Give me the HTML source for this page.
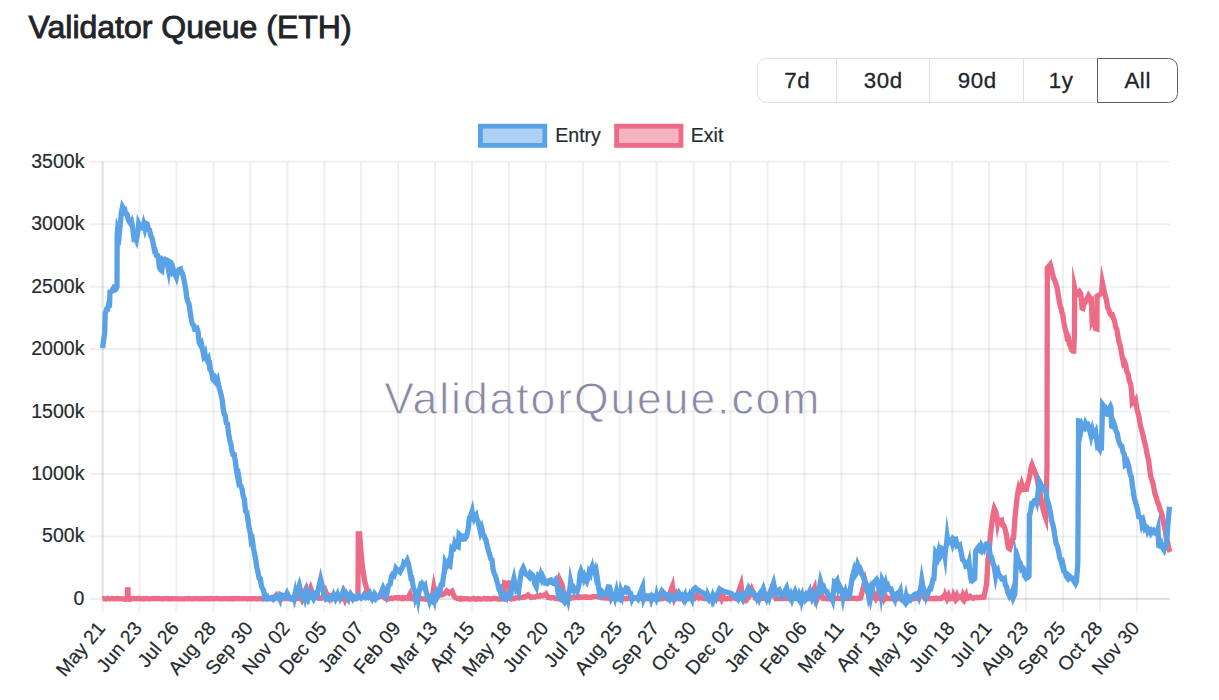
<!DOCTYPE html>
<html><head><meta charset="utf-8"><title>Validator Queue (ETH)</title>
<style>
html,body{margin:0;padding:0;background:#fff;}
body{width:1219px;height:700px;position:relative;overflow:hidden;font-family:"Liberation Sans",sans-serif;color:#212529;}
h1{position:absolute;left:28.5px;top:8.7px;margin:0;font-size:32px;line-height:36px;font-weight:400;color:#212529;white-space:nowrap;letter-spacing:0px;-webkit-text-stroke:0.9px #212529;}
.bg{position:absolute;left:757.3px;top:57.7px;height:45.2px;width:422px;display:flex;box-sizing:border-box;}
.bg div{box-sizing:border-box;height:45.2px;border:1.5px solid #dde1e6;border-left-width:0;font-size:22.3px;line-height:44.9px;letter-spacing:0.6px;text-indent:0.6px;text-align:center;color:#212529;background:#fff;-webkit-text-stroke:0.3px #212529;overflow:hidden;}
.bg div:first-child{border-left-width:1.5px;border-radius:9.5px 0 0 9.5px;}
.bg div.act{border:1.6px solid #5c6166;border-radius:0 9.5px 9.5px 0;margin-left:-1.5px;}
</style></head><body>
<h1>Validator Queue (ETH)</h1>
<div class="bg"><div style="width:79.3px">7d</div><div style="width:93.9px">30d</div><div style="width:93.8px">90d</div><div style="width:74.0px">1y</div><div class="act" style="width:81.2px">All</div></div>
<svg width="1219" height="700" viewBox="0 0 1219 700" style="position:absolute;left:0;top:0">
<g stroke="rgba(0,0,0,0.06)" stroke-width="2.1" fill="none"><line x1="102.60" y1="161.80" x2="102.60" y2="611.70"/><line x1="139.54" y1="161.80" x2="139.54" y2="611.70"/><line x1="176.48" y1="161.80" x2="176.48" y2="611.70"/><line x1="213.42" y1="161.80" x2="213.42" y2="611.70"/><line x1="250.36" y1="161.80" x2="250.36" y2="611.70"/><line x1="287.30" y1="161.80" x2="287.30" y2="611.70"/><line x1="324.24" y1="161.80" x2="324.24" y2="611.70"/><line x1="361.18" y1="161.80" x2="361.18" y2="611.70"/><line x1="398.12" y1="161.80" x2="398.12" y2="611.70"/><line x1="435.06" y1="161.80" x2="435.06" y2="611.70"/><line x1="472.00" y1="161.80" x2="472.00" y2="611.70"/><line x1="508.94" y1="161.80" x2="508.94" y2="611.70"/><line x1="545.88" y1="161.80" x2="545.88" y2="611.70"/><line x1="582.82" y1="161.80" x2="582.82" y2="611.70"/><line x1="619.76" y1="161.80" x2="619.76" y2="611.70"/><line x1="656.70" y1="161.80" x2="656.70" y2="611.70"/><line x1="693.64" y1="161.80" x2="693.64" y2="611.70"/><line x1="730.58" y1="161.80" x2="730.58" y2="611.70"/><line x1="767.52" y1="161.80" x2="767.52" y2="611.70"/><line x1="804.46" y1="161.80" x2="804.46" y2="611.70"/><line x1="841.40" y1="161.80" x2="841.40" y2="611.70"/><line x1="878.34" y1="161.80" x2="878.34" y2="611.70"/><line x1="915.28" y1="161.80" x2="915.28" y2="611.70"/><line x1="952.22" y1="161.80" x2="952.22" y2="611.70"/><line x1="989.16" y1="161.80" x2="989.16" y2="611.70"/><line x1="1026.10" y1="161.80" x2="1026.10" y2="611.70"/><line x1="1063.04" y1="161.80" x2="1063.04" y2="611.70"/><line x1="1099.98" y1="161.80" x2="1099.98" y2="611.70"/><line x1="1136.92" y1="161.80" x2="1136.92" y2="611.70"/><line x1="89.80" y1="161.80" x2="1169.90" y2="161.80"/><line x1="89.80" y1="224.24" x2="1169.90" y2="224.24"/><line x1="89.80" y1="286.69" x2="1169.90" y2="286.69"/><line x1="89.80" y1="349.13" x2="1169.90" y2="349.13"/><line x1="89.80" y1="411.57" x2="1169.90" y2="411.57"/><line x1="89.80" y1="474.01" x2="1169.90" y2="474.01"/><line x1="89.80" y1="536.46" x2="1169.90" y2="536.46"/><line x1="89.80" y1="598.90" x2="1169.90" y2="598.90"/><line x1="102.60" y1="161.80" x2="102.60" y2="598.90"/><line x1="102.60" y1="598.90" x2="1169.90" y2="598.90"/></g>
<text id="wm" x="384.3" y="414" font-family="Liberation Sans, sans-serif" font-size="44.5" fill="#8a8aa6" stroke="#ffffff" stroke-width="0.8" textLength="435" lengthAdjust="spacing">ValidatorQueue.com</text>
<polyline points="102.6,598.7 103.2,598.5 104.3,598.9 105.4,598.8 106.6,598.8 107.7,598.5 108.8,598.7 109.9,598.8 111.1,598.7 112.2,598.5 113.3,598.7 114.5,598.9 115.6,598.6 116.7,598.5 117.9,598.6 119.0,598.8 119.5,598.7 120.6,598.7 121.6,598.8 122.5,598.8 123.5,598.9 124.5,599.1 125.5,599.4 126.4,599.1 127.3,598.7 127.5,590.0 128.0,590.0 128.2,598.7 129.5,599.4 130.3,599.2 131.0,598.7 132.5,598.5 133.7,598.5 134.8,598.6 135.9,598.6 137.1,598.7 138.2,598.5 139.3,598.6 140.5,598.5 141.6,598.9 142.7,598.8 143.8,598.5 145.0,598.9 146.1,598.5 147.2,598.6 148.4,598.9 149.5,598.8 150.6,598.8 151.8,598.7 152.9,598.5 154.0,598.8 155.1,598.5 156.3,598.6 157.4,598.6 158.5,598.5 159.7,598.6 160.8,598.8 161.9,598.8 163.1,598.7 164.2,598.8 165.3,598.7 166.4,598.5 167.6,598.8 168.7,598.7 169.8,598.8 171.0,598.9 172.1,598.7 173.2,598.7 174.4,598.8 175.5,598.7 176.6,598.6 177.7,598.8 178.9,598.9 180.0,598.8 181.1,598.8 182.3,598.9 183.4,598.8 184.5,598.8 185.7,598.7 186.8,598.6 187.9,598.8 189.0,598.5 190.2,598.7 191.3,598.8 192.4,598.8 193.6,598.8 194.7,598.6 195.8,598.7 197.0,598.7 198.1,598.8 199.2,598.7 200.3,598.8 201.5,598.9 202.6,598.5 203.7,598.8 204.9,598.8 206.0,598.6 207.1,598.7 208.3,598.9 209.4,598.5 210.5,598.7 211.6,598.5 212.8,598.8 213.9,598.9 215.0,598.7 216.2,598.5 217.3,598.7 218.4,598.7 219.6,598.8 220.7,598.7 221.8,598.8 222.9,598.9 224.1,598.7 225.2,598.7 226.3,598.9 227.5,598.6 228.6,598.8 229.7,598.6 230.9,598.8 232.0,598.5 233.1,598.9 234.2,598.6 235.4,598.5 236.5,598.6 237.6,598.6 238.8,598.5 239.9,598.7 241.0,598.7 242.2,598.8 243.3,598.6 244.4,598.6 245.5,598.6 246.7,598.8 247.8,598.9 248.9,598.7 250.1,598.6 251.2,598.9 252.3,598.6 253.5,598.6 254.6,598.5 255.7,598.8 256.8,598.9 258.0,598.8 259.1,598.7 260.2,598.7 261.4,598.6 262.5,598.9 263.6,598.6 264.8,598.8 265.9,598.9 267.0,598.9 268.1,598.7 269.3,598.6 270.4,598.7 271.0,598.7 272.0,598.8 273.1,598.3 274.3,598.6 274.8,596.9 276.3,595.1 277.8,597.2 278.8,598.7 279.9,598.6 281.0,598.7 282.2,598.8 283.3,598.3 284.4,598.7 285.6,598.7 286.7,598.6 287.8,598.5 288.9,598.6 290.1,598.4 291.2,598.4 292.3,598.6 293.5,598.2 294.6,598.3 295.7,598.8 296.9,598.3 298.0,598.2 299.1,598.3 300.3,595.6 301.8,599.0 303.0,595.6 305.9,589.2 307.5,594.8 308.0,596.7 308.7,594.8 310.8,588.5 312.8,593.8 313.5,595.9 314.5,593.8 316.0,593.6 318.1,597.3 319.5,598.2 320.6,598.4 321.7,598.3 322.8,597.2 325.5,591.3 327.8,597.3 329.0,598.8 330.1,595.6 331.0,595.9 332.3,597.2 333.0,598.2 334.1,598.5 335.3,598.7 336.4,598.7 337.5,598.8 338.7,598.5 339.8,598.8 340.9,598.5 342.1,598.7 343.2,598.5 343.5,595.6 345.0,599.5 346.5,595.6 347.7,598.8 348.8,598.3 350.0,598.5 351.1,598.5 352.2,598.4 353.4,598.3 354.5,598.6 355.6,598.6 357.9,598.0 358.2,560.0 358.3,534.0 359.6,534.0 361.0,552.0 362.3,566.0 363.0,570.5 364.5,580.0 365.2,583.4 366.4,587.1 367.0,590.0 367.5,591.4 368.6,593.8 369.5,596.5 370.9,597.3 372.0,598.7 373.2,598.6 374.3,598.0 375.4,598.0 376.5,597.1 377.7,596.3 378.8,596.3 380.0,596.0 381.0,593.7 382.2,595.1 383.1,596.0 384.6,598.0 385.6,598.6 386.1,598.3 387.0,598.7 387.8,599.1 389.0,598.6 390.1,598.4 391.2,598.1 392.4,598.6 393.5,598.1 394.6,597.9 395.8,597.7 396.9,597.7 398.0,598.3 399.1,597.7 400.0,598.0 401.4,598.5 402.5,597.7 403.7,598.5 404.8,597.8 405.9,597.7 407.1,598.5 408.3,598.3 409.3,595.6 410.0,594.2 411.7,598.7 412.7,598.9 413.8,598.4 415.0,598.3 416.1,599.0 417.2,598.9 418.4,599.1 419.5,598.9 420.6,598.3 421.7,598.8 422.9,598.9 424.0,598.7 425.1,599.1 426.3,598.5 427.4,599.2 428.5,598.9 429.7,598.2 430.8,598.2 432.0,598.7 433.0,592.3 433.8,587.4 435.5,596.0 436.4,596.3 437.0,596.0 437.6,594.6 438.2,593.9 440.0,595.1 441.0,594.7 442.1,594.8 443.2,593.9 444.0,594.0 445.5,592.7 446.7,591.0 447.7,591.9 449.0,593.0 450.0,591.9 451.1,591.5 452.0,591.0 453.4,594.7 453.9,596.0 454.5,596.6 455.4,597.7 456.9,598.2 458.0,598.7 459.0,598.9 460.2,598.3 461.3,599.0 462.4,598.6 463.6,598.8 464.7,598.8 465.8,598.6 466.9,598.6 468.1,599.0 469.2,599.1 470.3,599.0 471.5,598.8 472.6,598.5 473.7,598.3 474.9,599.2 476.0,598.9 477.1,599.0 478.2,598.5 479.4,598.8 480.5,599.2 481.6,599.0 482.8,598.8 483.9,598.5 485.0,598.6 486.2,599.1 487.3,598.6 488.4,598.9 489.5,598.8 490.7,599.1 491.8,599.0 492.9,598.5 494.1,598.2 495.2,598.5 496.3,598.6 497.5,598.8 498.6,599.0 499.7,599.1 500.8,598.2 502.0,599.0 503.5,598.7 504.6,583.0 505.4,583.3 506.5,583.4 507.6,583.1 508.8,582.8 509.3,583.0 510.2,598.7 511.0,599.0 512.1,598.8 513.3,598.5 514.4,598.6 515.5,597.9 516.7,597.5 517.8,597.9 518.9,598.0 520.1,597.3 521.2,597.7 522.3,597.7 523.4,596.9 525.0,597.0 525.7,596.6 526.8,596.0 528.0,595.0 529.1,595.9 530.2,596.6 531.0,597.5 532.5,597.0 533.6,597.2 534.7,597.1 535.9,596.5 537.0,595.9 538.1,596.4 539.3,596.2 540.4,595.4 541.5,595.6 542.7,595.7 544.0,595.0 544.9,594.9 546.0,594.0 547.2,596.1 548.0,597.5 549.4,597.6 550.6,597.9 551.7,597.6 552.8,597.7 554.0,597.8 555.1,598.5 556.2,598.3 557.3,598.6 558.5,598.5 559.0,598.7 559.6,590.4 560.3,580.9 561.9,584.2 562.5,586.0 564.0,598.7 565.3,598.1 566.4,598.9 567.5,598.2 568.6,597.8 569.8,598.2 570.9,598.3 572.0,597.5 573.2,597.8 574.3,597.5 575.4,597.5 576.6,596.9 577.7,596.8 578.8,597.6 580.0,597.0 581.1,597.4 582.2,597.0 583.3,597.1 584.5,596.8 585.6,597.3 586.7,596.9 587.9,597.4 589.0,597.3 590.1,597.3 591.2,597.5 592.4,596.8 593.5,596.5 594.6,596.7 595.8,596.7 596.9,596.6 598.0,596.6 599.2,597.1 600.0,597.0 601.4,597.6 602.5,597.3 603.7,598.0 604.8,598.1 605.9,597.4 607.1,598.1 608.2,598.1 609.3,597.9 610.5,598.9 612.0,598.7 613.0,598.7 614.1,598.5 615.3,598.4 616.4,598.2 617.5,598.4 617.9,597.0 619.4,595.2 620.9,597.1 622.0,598.2 623.2,598.2 624.3,598.7 625.4,598.8 626.6,598.7 627.7,598.6 628.8,598.2 629.9,598.2 631.1,598.3 632.2,598.8 633.3,598.3 634.5,598.4 635.6,598.4 636.7,598.2 637.9,598.8 639.0,598.7 640.1,598.3 641.2,598.2 642.4,598.4 643.5,598.6 644.6,598.4 645.8,598.3 646.9,598.8 648.0,598.6 649.2,598.7 650.3,598.8 651.4,598.5 652.5,598.7 653.7,598.7 654.8,598.7 655.9,598.4 657.1,598.8 658.2,598.3 659.3,598.7 660.5,598.8 661.6,598.2 662.7,598.7 663.8,598.2 665.0,598.2 666.1,598.2 667.2,598.8 668.2,597.5 672.4,586.4 673.7,596.9 674.2,598.8 675.7,595.6 676.3,598.3 677.4,598.5 678.5,598.4 679.7,598.8 680.8,598.7 681.9,598.8 683.1,598.4 684.2,598.5 685.3,598.7 686.4,598.2 687.6,598.7 688.7,598.6 689.8,598.7 691.0,598.7 692.1,598.3 693.2,598.6 694.4,598.7 695.5,597.2 697.0,595.1 698.5,597.1 698.7,596.7 700.0,597.0 701.3,597.5 702.3,598.2 703.4,598.4 704.5,598.7 705.7,598.5 706.8,598.6 707.9,598.7 709.0,598.7 710.2,598.6 711.3,598.2 712.4,598.2 713.6,598.2 714.7,598.8 715.8,598.6 717.0,598.2 718.1,598.8 719.2,598.3 720.1,595.6 721.6,599.0 723.1,595.6 723.7,598.3 724.9,598.6 726.0,598.8 727.1,598.8 728.3,598.3 729.4,598.5 730.5,598.7 731.6,596.8 732.9,596.1 734.2,597.6 735.0,598.5 736.2,598.8 736.8,596.9 741.0,584.8 742.1,593.8 742.5,596.0 743.7,597.3 744.8,599.0 746.3,595.6 747.5,598.7 748.7,597.1 751.8,589.4 754.9,596.6 755.4,598.3 756.5,598.6 757.6,598.3 758.8,598.8 759.9,598.3 761.0,598.6 762.2,598.3 763.3,598.2 764.4,598.5 765.5,598.8 766.7,598.2 767.8,598.5 768.2,597.0 771.5,588.6 774.8,597.1 775.7,598.6 776.8,598.4 778.0,598.8 779.1,598.5 780.2,598.5 781.4,598.5 782.5,598.8 783.6,598.3 784.8,598.3 785.9,598.2 787.0,598.6 788.1,598.4 789.5,597.4 791.0,595.1 792.5,597.5 793.8,598.2 794.9,598.5 796.1,598.5 797.2,598.5 798.3,598.5 799.4,598.8 800.6,598.2 801.7,598.7 802.8,598.7 804.0,598.8 805.1,598.7 806.2,598.3 807.4,598.8 808.5,598.8 809.6,598.4 810.5,597.2 814.4,588.5 815.3,597.2 815.6,598.8 817.1,595.6 817.5,598.8 818.2,597.4 820.5,592.5 822.8,597.3 823.2,598.5 824.3,598.5 825.4,598.7 826.6,598.8 827.7,598.6 828.8,598.8 830.0,598.4 831.1,598.2 832.2,598.7 833.3,598.4 834.5,598.3 835.6,598.7 836.7,598.3 837.9,598.2 839.0,598.6 840.1,598.6 841.3,598.3 842.4,598.5 843.5,598.6 844.6,598.2 845.8,598.3 846.9,598.6 848.0,598.7 849.2,598.6 850.3,598.5 851.4,598.2 852.6,598.3 853.7,598.2 854.8,598.3 855.9,598.3 857.1,598.8 858.2,598.5 859.3,598.2 860.5,598.2 860.8,597.5 865.0,580.8 869.2,596.9 869.6,596.9 872.6,590.7 874.5,597.4 875.5,598.8 877.0,595.6 877.4,598.3 878.5,598.2 879.7,598.2 880.8,598.8 881.9,598.4 882.2,595.6 883.7,599.0 885.2,595.6 886.5,598.5 887.6,598.2 888.7,598.4 889.8,598.7 891.0,598.5 892.1,598.5 893.2,598.2 894.4,598.6 895.5,598.6 896.6,598.4 897.8,598.8 898.9,598.4 900.0,598.2 901.1,598.5 902.3,598.7 903.4,598.5 904.5,598.5 905.7,598.7 906.8,598.8 907.9,598.8 909.1,598.6 910.2,598.6 911.3,598.6 912.4,598.7 913.6,598.8 914.7,598.5 915.8,598.3 917.0,598.4 917.5,597.4 920.8,588.6 924.1,597.1 924.9,598.4 926.0,598.5 927.1,598.6 928.3,598.7 929.4,598.7 930.5,598.5 931.7,598.6 932.8,598.4 933.9,598.8 935.0,598.6 936.2,598.2 937.3,598.7 938.4,598.5 939.6,598.5 940.7,598.7 941.8,598.2 942.7,597.2 944.0,595.7 945.3,596.7 945.5,595.6 947.0,598.8 948.5,595.6 949.7,598.8 950.9,598.6 952.0,598.5 953.1,598.3 953.7,595.6 955.2,598.8 956.7,595.6 957.6,598.3 958.7,597.2 960.0,596.5 961.3,597.3 962.2,598.4 963.0,595.6 964.5,599.0 966.0,595.6 966.7,598.5 967.8,598.3 968.7,596.7 970.0,596.1 971.3,597.5 972.3,598.3 973.5,598.4 975.0,597.5 975.6,597.5 976.7,597.3 977.8,597.7 979.0,597.4 980.1,597.5 981.2,597.0 982.3,597.4 983.5,597.3 984.0,597.2 984.6,594.1 985.7,588.6 986.6,584.0 987.9,560.8 989.1,551.2 990.3,536.2 991.7,524.8 992.5,518.5 993.6,511.8 994.3,508.6 995.9,512.0 996.9,517.0 997.6,522.6 998.2,519.6 999.3,520.2 1000.7,520.7 1001.6,520.3 1002.7,525.3 1003.8,525.7 1004.6,527.4 1006.1,533.1 1007.2,540.5 1008.4,548.0 1009.7,548.9 1010.6,546.1 1011.7,542.3 1012.9,537.8 1013.6,537.7 1015.1,516.4 1016.1,506.8 1017.4,495.0 1018.7,488.8 1019.6,491.2 1020.8,489.0 1021.9,484.3 1022.6,486.3 1024.2,489.4 1025.1,489.2 1026.4,489.3 1027.7,483.7 1028.7,480.2 1030.3,473.4 1030.9,467.8 1032.0,464.8 1033.2,467.7 1034.3,470.3 1035.4,473.4 1036.6,476.2 1038.0,483.7 1038.8,488.5 1040.0,491.5 1041.1,503.0 1041.8,504.3 1043.4,510.6 1044.5,514.5 1045.7,517.9 1046.5,491.4 1047.0,465.7 1047.3,300.0 1047.3,268.0 1047.9,267.3 1049.0,266.0 1050.2,264.5 1051.2,268.5 1052.4,273.3 1053.6,278.0 1054.7,280.3 1055.8,283.6 1056.9,286.9 1057.9,292.9 1059.2,300.7 1060.3,306.6 1061.4,309.1 1062.0,312.9 1062.6,313.8 1063.7,321.4 1064.8,327.7 1066.4,332.9 1067.1,337.6 1068.2,337.0 1069.4,344.2 1070.7,347.0 1071.6,350.1 1072.7,351.1 1073.8,351.1 1074.4,335.0 1074.7,288.3 1076.2,295.1 1077.3,294.2 1078.0,293.5 1079.5,291.7 1080.7,293.4 1082.1,308.2 1082.9,308.5 1084.0,303.6 1085.0,302.9 1086.3,299.5 1087.4,298.1 1088.6,295.5 1089.7,297.0 1090.8,302.0 1091.4,301.4 1092.1,321.7 1093.1,319.8 1094.3,320.8 1095.7,328.7 1096.8,329.0 1097.1,296.0 1097.6,295.7 1098.7,295.1 1099.9,294.5 1101.0,293.9 1101.6,293.6 1102.4,282.8 1103.3,286.9 1104.4,292.5 1105.5,296.5 1106.2,299.0 1107.8,307.9 1108.9,310.0 1109.6,312.9 1111.2,315.1 1112.3,314.8 1113.6,318.6 1114.6,321.3 1115.7,327.3 1116.8,329.0 1117.9,335.7 1119.1,342.5 1120.2,345.1 1121.3,352.1 1122.0,355.7 1123.6,363.5 1124.7,362.3 1125.9,365.7 1126.4,370.0 1127.0,371.6 1128.1,373.9 1129.2,380.5 1130.7,384.0 1131.5,390.7 1132.2,401.7 1133.2,400.3 1133.8,402.5 1134.9,403.0 1135.7,401.4 1137.2,410.3 1138.3,413.9 1139.4,418.8 1140.0,422.9 1140.5,426.1 1141.7,430.2 1142.8,434.5 1144.3,441.4 1145.1,443.8 1146.2,449.3 1147.3,455.4 1148.6,460.0 1149.6,468.4 1150.7,476.3 1151.4,478.6 1153.0,483.5 1154.1,489.0 1155.0,494.0 1156.4,497.9 1157.5,502.0 1158.6,504.3 1160.0,509.4 1160.9,511.1 1162.0,514.8 1163.1,520.5 1164.0,524.8 1165.4,531.2 1166.5,539.4 1167.8,542.8 1168.8,548.8 1170.2,551.8" fill="none" stroke="#ec6b87" stroke-width="5.3" stroke-linejoin="miter" stroke-miterlimit="10" stroke-linecap="butt"/>
<polyline points="102.6,348.0 103.2,343.1 104.7,333.0 105.2,314.0 106.6,309.2 107.7,309.1 108.8,303.7 109.6,304.0 110.0,292.0 111.1,291.7 112.2,290.4 113.3,288.4 114.5,290.1 115.6,289.6 117.0,287.0 117.2,234.0 117.6,229.3 119.3,234.1 120.5,222.0 121.2,213.6 122.5,206.8 123.5,208.6 124.6,208.8 125.4,213.0 126.9,213.9 128.0,218.4 129.0,221.0 130.3,223.1 131.5,221.3 132.5,226.3 133.9,238.0 134.8,237.2 136.3,240.4 137.1,235.8 138.2,229.9 138.7,223.7 139.3,225.0 140.5,225.4 141.1,226.9 142.7,228.0 143.6,224.3 144.8,228.7 146.1,223.4 147.2,224.0 148.4,229.9 149.5,230.2 150.9,236.0 151.8,237.4 152.9,241.8 154.5,250.7 155.1,250.5 156.3,255.3 157.7,255.6 158.5,259.6 159.4,267.7 160.8,269.9 161.8,270.7 163.0,260.0 164.2,261.0 165.3,259.5 166.7,260.4 167.6,265.4 168.6,270.6 169.8,261.9 171.0,262.6 172.1,265.8 172.7,270.2 173.2,269.4 174.4,274.4 175.5,275.0 176.4,277.2 177.6,272.0 178.9,269.5 180.5,268.9 181.1,271.1 182.3,273.1 182.9,275.0 184.5,282.4 186.1,292.0 186.8,297.7 187.9,302.2 189.0,303.8 189.7,309.0 191.3,319.0 192.2,323.6 193.6,325.2 194.7,329.3 195.8,329.2 197.0,328.5 198.1,331.7 199.2,342.7 200.7,345.5 201.5,344.2 202.6,349.6 203.7,355.3 204.9,353.1 205.5,357.6 207.1,360.4 208.3,358.6 209.4,365.8 209.9,365.3 210.5,369.8 211.6,372.4 212.8,379.1 214.0,380.5 215.0,378.5 216.2,381.3 217.4,379.2 218.4,384.4 219.6,389.2 220.7,393.1 222.3,400.5 222.9,406.8 224.1,413.6 225.2,415.6 226.3,423.1 227.5,424.0 228.6,433.7 229.7,439.9 230.9,444.0 232.0,451.4 233.1,454.5 234.2,454.6 234.8,458.6 235.4,461.2 236.5,470.7 238.1,479.3 238.8,477.5 239.9,484.9 241.0,486.2 242.2,489.5 243.1,495.9 244.4,499.2 245.5,511.2 246.7,511.9 247.8,519.0 249.3,529.1 250.1,531.8 251.2,541.1 252.3,539.7 253.5,548.1 254.6,554.2 255.5,558.1 256.8,567.6 258.0,572.4 259.1,578.1 260.2,578.5 261.7,587.2 262.5,588.3 263.6,590.5 264.8,597.6 265.9,597.0 267.0,596.5 267.8,598.8 268.5,598.7 269.2,598.6 270.0,598.5 270.8,597.8 271.5,597.6 272.2,598.5 273.0,599.2 273.8,598.0 274.5,598.2 275.2,597.6 276.0,596.5 276.8,597.3 277.5,597.8 278.2,597.5 279.0,597.3 279.8,599.0 280.5,595.1 281.2,595.6 282.0,595.2 282.8,595.5 283.5,597.4 284.2,597.4 284.9,597.3 287.0,593.2 289.1,597.5 289.5,597.6 290.2,599.0 291.0,599.2 291.8,598.5 292.5,598.7 293.2,597.5 294.0,599.1 294.8,595.2 295.1,597.5 299.3,585.2 302.2,597.5 303.2,598.8 304.7,595.6 305.2,597.7 306.0,594.6 306.8,598.3 307.5,599.1 308.2,593.9 309.0,596.2 309.5,596.9 311.6,593.8 312.7,597.3 313.5,598.8 315.0,595.6 315.8,597.1 316.4,597.4 320.6,579.3 324.8,597.5 325.5,598.6 326.2,597.8 327.0,598.2 327.8,599.1 328.5,599.1 329.2,598.4 330.0,598.5 330.8,597.3 331.5,596.5 332.2,597.9 333.0,596.6 333.8,596.4 334.0,595.6 335.5,598.8 337.0,595.6 337.5,598.6 338.2,598.3 339.0,596.3 339.8,595.1 340.5,595.3 340.8,596.8 343.6,590.8 346.4,596.7 347.2,597.0 348.0,598.4 348.3,596.9 350.2,593.8 352.1,597.3 352.5,598.1 353.2,596.5 354.0,597.2 354.8,598.7 355.5,598.8 356.2,598.8 357.2,597.4 358.5,595.8 359.8,597.3 360.8,597.4 361.5,598.2 362.2,597.7 362.6,597.1 364.2,594.7 365.9,597.4 366.8,596.6 367.7,597.2 369.8,593.7 371.1,597.3 372.0,598.8 373.5,595.6 374.2,598.0 375.0,598.8 375.8,596.7 376.5,598.2 377.2,597.9 378.0,597.6 378.8,596.7 379.6,596.6 383.0,588.2 386.3,596.0 386.9,594.0 388.0,587.3 389.0,585.0 390.3,584.0 391.5,576.2 392.5,574.6 394.0,575.7 394.8,573.2 395.9,568.5 397.0,570.0 398.2,569.9 399.3,571.3 400.0,572.0 401.6,568.9 403.0,566.0 403.8,562.9 404.9,563.8 406.0,562.5 407.2,560.3 408.3,563.5 409.0,566.0 411.0,578.0 411.7,577.9 412.9,584.7 413.5,588.0 415.1,591.7 415.8,598.0 417.4,594.3 418.0,597.7 418.5,593.8 420.0,588.0 420.8,584.9 421.9,585.6 422.5,584.0 423.0,584.6 424.2,587.1 425.0,586.0 426.4,592.8 427.0,594.0 427.5,596.6 429.0,598.0 429.8,601.3 430.9,598.5 432.0,600.0 433.2,597.2 434.3,600.4 435.0,596.0 436.6,592.6 437.7,596.2 438.8,594.0 440.0,592.0 441.1,584.8 442.4,584.7 443.7,575.0 444.5,570.7 445.2,562.4 446.8,565.6 448.0,563.0 449.0,565.6 449.9,566.1 451.7,549.4 452.4,550.3 453.5,549.6 454.7,543.6 455.4,545.3 456.9,546.4 458.2,546.9 459.1,534.2 460.3,535.2 461.4,538.4 462.9,537.2 463.7,539.2 464.8,539.1 466.0,537.1 466.6,536.4 468.2,528.5 469.4,517.9 470.5,516.6 472.1,511.4 472.7,515.3 474.0,518.9 475.0,516.9 476.1,515.4 476.8,518.7 478.4,521.9 479.5,527.7 480.5,532.2 481.8,528.5 482.4,531.0 482.9,534.7 484.0,535.5 485.2,538.9 486.0,540.0 487.4,546.6 488.6,551.5 489.7,554.6 490.7,558.7 492.0,559.7 493.1,569.5 494.2,573.3 495.3,575.6 496.3,579.1 497.6,583.6 498.7,588.1 499.9,587.5 500.9,594.0 502.1,597.7 503.7,598.5 504.4,596.5 506.0,598.0 506.6,594.8 507.8,596.0 508.5,597.6 510.0,597.0 511.0,594.0 512.3,585.0 513.9,578.6 514.6,582.3 516.0,585.0 516.8,590.4 517.9,589.6 518.6,591.2 520.2,579.2 521.4,571.7 522.5,569.3 523.2,567.9 524.7,571.7 525.9,574.1 527.0,574.8 527.9,575.4 529.2,576.9 530.4,573.2 531.5,574.1 532.6,575.3 533.4,577.3 534.9,584.0 536.2,586.5 537.2,580.0 538.1,576.3 539.4,577.8 540.5,574.6 541.8,579.0 542.8,576.7 543.9,579.2 545.1,583.1 546.4,583.1 547.3,583.6 548.5,582.5 549.2,580.6 550.7,580.1 551.8,582.5 552.9,583.1 554.1,581.4 555.7,579.7 556.4,583.5 557.5,587.8 558.5,596.7 559.8,597.9 561.3,593.1 562.0,592.2 563.1,599.8 564.3,601.5 565.0,599.6 566.5,596.6 567.8,600.5 568.8,593.5 569.9,588.5 570.6,581.7 572.2,589.0 573.3,588.0 574.3,590.8 575.6,588.8 576.7,588.1 577.5,590.0 579.0,584.8 580.1,573.0 580.8,571.1 582.4,576.1 583.6,579.1 584.6,576.1 585.7,578.4 586.9,581.1 588.2,577.3 589.1,572.2 590.3,574.2 591.4,569.1 591.9,567.7 592.5,571.3 593.7,571.4 594.8,569.4 595.9,575.6 596.6,573.6 598.2,584.2 599.3,592.0 600.4,589.8 601.6,590.9 603.0,596.1 603.8,595.5 605.0,594.4 606.0,594.0 607.2,590.2 608.3,586.9 609.6,587.1 610.6,591.6 611.4,597.1 612.9,594.1 614.2,593.9 615.1,597.2 616.3,592.3 617.4,598.8 618.8,598.4 619.6,599.0 620.8,591.3 621.9,594.6 622.6,590.0 624.2,590.7 625.3,591.5 626.3,588.1 627.6,588.6 628.7,591.0 630.0,594.0 630.9,594.0 632.1,599.3 633.2,597.2 634.6,597.7 636.2,597.8 637.0,598.4 637.8,599.2 638.4,597.4 642.6,587.0 643.3,596.8 643.6,599.0 645.1,595.6 646.0,596.0 646.8,596.3 647.5,597.0 648.2,595.9 649.0,595.8 649.8,597.3 650.5,596.7 651.2,599.2 652.0,596.6 652.8,597.7 653.5,596.5 654.2,597.0 655.0,598.3 655.8,599.2 656.5,595.9 657.2,598.9 658.0,597.6 658.8,598.1 659.1,597.5 662.0,590.9 663.8,592.8 665.0,594.3 666.9,597.0 667.8,596.0 668.5,597.5 669.2,598.6 670.0,596.0 670.8,595.6 671.5,597.7 672.2,598.9 673.0,598.7 673.8,599.1 674.5,598.1 675.2,599.1 676.0,598.5 676.6,597.2 678.8,592.8 681.0,596.7 682.0,595.6 683.5,599.0 685.0,595.6 685.8,598.9 686.5,597.5 687.2,597.0 688.0,596.1 688.8,598.6 689.5,598.4 690.3,595.6 691.8,598.8 692.3,595.6 693.7,589.2 695.4,587.8 697.0,589.4 699.4,590.8 701.0,592.0 703.3,592.8 705.0,594.2 706.5,597.5 707.7,598.8 708.1,595.6 708.5,596.5 709.8,596.6 710.5,597.1 711.2,596.6 712.0,599.2 712.8,596.4 713.5,598.5 714.2,595.9 715.0,596.9 715.8,598.2 716.2,597.0 719.7,589.0 721.5,590.3 723.0,591.3 725.8,591.8 728.0,592.6 730.2,592.8 732.0,593.9 733.9,596.6 734.5,596.9 735.0,597.0 736.5,595.4 737.4,597.2 738.3,598.8 739.8,595.6 740.5,598.1 741.2,597.8 742.0,596.8 742.8,598.6 743.5,596.4 744.2,596.6 744.8,596.8 748.5,588.0 750.7,591.8 752.0,593.6 753.7,593.0 755.0,595.0 756.0,596.9 756.9,598.8 758.4,595.6 759.2,594.5 759.8,597.6 763.3,588.9 765.3,595.8 766.0,597.2 766.5,597.3 767.0,598.8 768.5,595.6 769.0,595.7 769.4,597.0 773.6,583.4 775.1,590.8 776.0,593.7 777.3,590.8 779.1,589.8 781.2,594.8 782.0,596.3 783.2,594.8 786.6,588.1 789.0,597.6 790.0,598.8 791.0,595.6 792.0,598.8 793.0,595.6 795.0,591.5 797.0,597.6 798.0,598.8 799.0,595.6 800.0,598.8 801.5,595.6 802.0,599.4 802.8,596.5 803.5,595.9 804.2,597.0 805.0,595.8 805.8,599.3 806.5,598.5 806.9,597.5 809.8,591.2 811.3,597.0 812.0,598.8 813.5,595.6 814.0,596.4 815.0,597.0 815.6,598.8 816.7,591.2 817.8,589.8 819.0,590.8 820.1,584.1 820.6,586.6 821.2,583.6 822.3,587.3 823.5,586.6 825.0,591.0 825.7,590.9 826.9,591.3 828.0,595.3 829.0,596.0 830.3,597.8 831.4,596.1 832.6,599.4 833.6,590.6 834.5,581.8 835.9,582.5 837.0,580.8 838.2,587.3 839.0,584.7 840.4,587.5 841.6,590.6 842.9,597.5 843.8,592.6 844.9,594.1 845.6,591.7 847.2,596.4 848.3,597.2 849.4,596.5 850.6,588.0 851.2,584.7 851.7,580.0 853.0,574.4 854.0,570.8 855.1,575.4 855.8,574.4 857.7,564.7 858.5,566.6 859.6,567.2 860.5,569.9 861.9,574.4 863.0,575.7 864.2,579.0 865.3,586.5 866.4,589.6 867.0,590.3 867.5,589.5 868.7,596.3 869.8,592.2 870.7,597.2 872.1,590.4 873.5,582.8 874.3,582.1 875.5,580.9 876.6,579.6 878.0,582.8 878.8,587.5 880.0,585.6 880.9,592.1 882.2,580.1 883.4,582.6 884.5,587.3 885.6,583.6 886.5,587.7 887.9,585.9 889.0,589.1 890.1,588.7 891.0,588.8 892.4,594.3 893.9,598.1 894.7,599.6 895.8,594.0 896.9,593.9 898.1,592.7 899.5,592.8 900.3,591.1 901.4,599.3 902.6,600.7 904.0,601.4 904.8,602.4 906.0,596.7 907.1,602.0 908.2,600.6 909.4,597.9 910.5,599.2 911.6,596.8 912.7,596.6 913.9,595.1 915.0,594.4 916.1,595.4 917.3,594.2 918.4,596.4 919.0,597.7 919.5,596.2 920.7,588.9 921.8,580.4 922.9,586.9 924.0,590.0 925.2,590.8 926.4,596.9 927.4,594.9 928.6,591.3 930.0,588.4 930.8,588.5 932.0,583.9 933.1,579.3 933.9,579.0 935.7,553.0 936.5,554.3 937.6,557.0 938.7,552.0 939.9,557.2 941.3,555.0 942.1,548.7 943.0,549.2 944.4,551.8 945.0,555.5 945.5,549.4 946.6,543.9 947.2,537.6 947.8,541.9 948.9,542.6 949.6,542.1 951.2,540.1 952.3,543.5 953.4,538.9 954.3,539.7 955.7,539.3 956.8,545.4 957.9,544.6 959.1,546.3 959.8,545.7 961.3,552.9 962.5,559.6 963.6,560.6 964.7,562.1 965.9,566.5 967.3,566.3 968.1,565.9 969.0,562.6 970.4,576.4 971.0,579.0 971.5,578.5 972.6,580.4 973.8,579.2 974.7,578.6 975.6,551.3 977.2,548.8 978.3,547.3 978.9,549.0 979.4,550.5 980.8,551.3 981.7,546.5 982.5,548.0 983.9,549.9 985.3,545.9 986.2,543.9 987.3,543.6 988.5,544.8 989.1,548.0 990.7,557.5 991.8,557.7 993.0,563.4 994.1,566.0 995.6,575.6 996.4,571.3 997.5,570.0 998.1,572.6 998.6,574.6 999.8,575.5 1000.9,577.3 1002.0,579.0 1003.3,578.8 1004.3,578.3 1005.4,585.2 1006.5,586.6 1007.1,589.1 1007.7,592.4 1008.8,594.4 1009.9,596.9 1011.0,596.0 1012.2,592.3 1013.3,597.5 1014.8,594.2 1015.6,577.3 1016.1,560.8 1016.7,564.0 1017.8,558.0 1018.7,560.9 1020.1,562.9 1021.3,568.5 1022.4,567.3 1023.5,568.4 1024.6,576.0 1025.7,577.5 1026.4,576.2 1028.0,577.2 1029.0,576.2 1029.5,514.6 1030.3,512.9 1031.6,504.3 1032.5,504.7 1033.7,501.9 1034.8,500.1 1035.9,499.5 1036.7,501.7 1038.2,491.7 1039.3,481.2 1040.4,483.2 1041.3,488.0 1042.7,486.4 1043.9,487.1 1045.0,490.7 1046.1,492.4 1047.0,499.0 1048.3,503.0 1049.5,507.8 1050.8,514.6 1051.7,520.9 1052.9,524.6 1054.0,530.2 1054.7,535.0 1056.3,544.3 1057.4,546.0 1058.5,550.5 1059.6,557.3 1060.8,560.3 1062.4,566.0 1063.0,564.7 1064.2,570.1 1065.3,573.2 1066.3,576.2 1067.6,578.0 1068.7,575.3 1070.0,576.3 1070.9,578.8 1072.1,579.2 1073.2,578.6 1074.0,581.4 1075.5,583.7 1076.5,581.4 1077.8,563.4 1078.4,465.7 1078.6,421.0 1080.0,421.4 1081.4,429.2 1082.2,425.5 1082.9,427.0 1084.5,428.2 1085.6,423.7 1086.4,425.3 1087.9,424.5 1089.0,427.3 1090.2,432.2 1090.7,431.4 1091.3,434.9 1092.4,430.3 1093.5,434.4 1094.3,435.3 1095.7,432.3 1097.4,445.0 1098.1,444.2 1098.6,443.7 1099.2,448.6 1099.7,449.4 1100.3,446.6 1101.4,447.0 1102.6,404.5 1103.7,406.0 1104.8,406.6 1105.7,408.6 1107.1,414.2 1107.9,414.3 1109.3,408.6 1110.5,406.4 1111.0,407.6 1111.6,426.3 1112.8,426.8 1113.6,422.6 1115.0,426.3 1115.7,430.0 1117.3,433.5 1118.4,440.2 1120.0,444.3 1120.7,445.8 1121.8,446.1 1122.9,451.9 1124.3,454.3 1125.2,464.7 1126.5,463.6 1127.4,462.0 1128.6,465.7 1129.7,471.9 1130.8,475.9 1131.4,477.0 1132.0,482.9 1133.1,490.2 1134.4,499.0 1135.4,501.5 1136.5,505.8 1137.6,509.7 1138.7,516.7 1139.5,517.0 1141.0,517.5 1142.1,524.6 1143.3,521.7 1144.7,527.4 1145.5,526.1 1146.7,527.0 1147.8,531.4 1148.9,529.5 1150.0,529.4 1151.2,533.0 1152.4,531.3 1153.4,530.4 1154.6,532.5 1155.7,533.6 1156.2,533.7 1156.8,533.7 1158.0,529.2 1158.8,545.7 1160.2,546.3 1161.4,544.0 1162.5,547.3 1164.0,549.8 1164.7,547.6 1165.9,545.5 1166.5,545.4 1168.2,520.0 1169.5,506.8" fill="none" stroke="#5aa2e6" stroke-width="5.3" stroke-linejoin="miter" stroke-miterlimit="10" stroke-linecap="butt"/>
<g font-family="Liberation Sans, sans-serif" font-size="19.5" fill="#262b30" stroke="#262b30" stroke-width="0.2"><text x="84.4" y="167.7" text-anchor="end">3500k</text><text x="84.4" y="230.1" text-anchor="end">3000k</text><text x="84.4" y="292.6" text-anchor="end">2500k</text><text x="84.4" y="355.0" text-anchor="end">2000k</text><text x="84.4" y="417.5" text-anchor="end">1500k</text><text x="84.4" y="479.9" text-anchor="end">1000k</text><text x="84.4" y="542.4" text-anchor="end">500k</text><text x="84.4" y="604.8" text-anchor="end">0</text><text transform="translate(92.30,617.20) rotate(-50)" x="0" y="18.02" text-anchor="end">May 21</text><text transform="translate(129.24,617.20) rotate(-50)" x="0" y="18.02" text-anchor="end">Jun 23</text><text transform="translate(166.18,617.20) rotate(-50)" x="0" y="18.02" text-anchor="end">Jul 26</text><text transform="translate(203.12,617.20) rotate(-50)" x="0" y="18.02" text-anchor="end">Aug 28</text><text transform="translate(240.06,617.20) rotate(-50)" x="0" y="18.02" text-anchor="end">Sep 30</text><text transform="translate(277.00,617.20) rotate(-50)" x="0" y="18.02" text-anchor="end">Nov 02</text><text transform="translate(313.94,617.20) rotate(-50)" x="0" y="18.02" text-anchor="end">Dec 05</text><text transform="translate(350.88,617.20) rotate(-50)" x="0" y="18.02" text-anchor="end">Jan 07</text><text transform="translate(387.82,617.20) rotate(-50)" x="0" y="18.02" text-anchor="end">Feb 09</text><text transform="translate(424.76,617.20) rotate(-50)" x="0" y="18.02" text-anchor="end">Mar 13</text><text transform="translate(461.70,617.20) rotate(-50)" x="0" y="18.02" text-anchor="end">Apr 15</text><text transform="translate(498.64,617.20) rotate(-50)" x="0" y="18.02" text-anchor="end">May 18</text><text transform="translate(535.58,617.20) rotate(-50)" x="0" y="18.02" text-anchor="end">Jun 20</text><text transform="translate(572.52,617.20) rotate(-50)" x="0" y="18.02" text-anchor="end">Jul 23</text><text transform="translate(609.46,617.20) rotate(-50)" x="0" y="18.02" text-anchor="end">Aug 25</text><text transform="translate(646.40,617.20) rotate(-50)" x="0" y="18.02" text-anchor="end">Sep 27</text><text transform="translate(683.34,617.20) rotate(-50)" x="0" y="18.02" text-anchor="end">Oct 30</text><text transform="translate(720.28,617.20) rotate(-50)" x="0" y="18.02" text-anchor="end">Dec 02</text><text transform="translate(757.22,617.20) rotate(-50)" x="0" y="18.02" text-anchor="end">Jan 04</text><text transform="translate(794.16,617.20) rotate(-50)" x="0" y="18.02" text-anchor="end">Feb 06</text><text transform="translate(831.10,617.20) rotate(-50)" x="0" y="18.02" text-anchor="end">Mar 11</text><text transform="translate(868.04,617.20) rotate(-50)" x="0" y="18.02" text-anchor="end">Apr 13</text><text transform="translate(904.98,617.20) rotate(-50)" x="0" y="18.02" text-anchor="end">May 16</text><text transform="translate(941.92,617.20) rotate(-50)" x="0" y="18.02" text-anchor="end">Jun 18</text><text transform="translate(978.86,617.20) rotate(-50)" x="0" y="18.02" text-anchor="end">Jul 21</text><text transform="translate(1015.80,617.20) rotate(-50)" x="0" y="18.02" text-anchor="end">Aug 23</text><text transform="translate(1052.74,617.20) rotate(-50)" x="0" y="18.02" text-anchor="end">Sep 25</text><text transform="translate(1089.68,617.20) rotate(-50)" x="0" y="18.02" text-anchor="end">Oct 28</text><text transform="translate(1126.62,617.20) rotate(-50)" x="0" y="18.02" text-anchor="end">Nov 30</text><text x="555.3" y="142.1">Entry</text><text x="690.8" y="142.1">Exit</text></g>
<rect x="480.4" y="126.2" width="64.4" height="19.2" fill="#aed0f3" stroke="#5aa2e6" stroke-width="4.8"/>
<rect x="616.6" y="126.2" width="64.4" height="19.2" fill="#f6b3c1" stroke="#ec6b87" stroke-width="4.8"/>
</svg>
</body></html>
